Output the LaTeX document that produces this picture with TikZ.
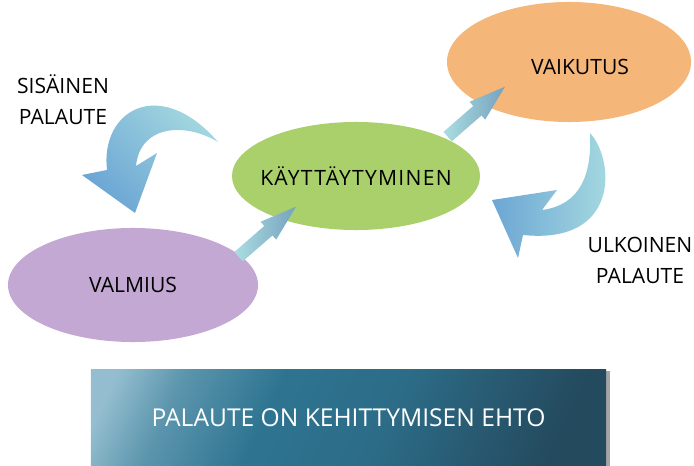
\documentclass[tikz,border=0pt]{standalone}
\usepackage{fontspec}
\setmainfont{Open Sans}
\usetikzlibrary{shapes.geometric,shapes.arrows,shadows,calc,positioning}

\definecolor{vihrea}{RGB}{169,208,106}
\definecolor{oranssi}{RGB}{245,182,122}
\definecolor{violetti}{RGB}{195,168,211}
\definecolor{syaani}{RGB}{170,221,225}
\definecolor{sininen}{RGB}{108,166,212}
\definecolor{teras}{RGB}{118,162,190}
\definecolor{laatta1}{RGB}{148,190,207}
\definecolor{laatta2}{RGB}{46,116,145}
\definecolor{laatta3}{RGB}{36,74,94}
\pgfdeclarehorizontalshading{laattavari}{100bp}{color(0bp)=(laatta1);
	color(20bp)=(laatta1); color(28bp)=(laatta2!55!laatta1);
	color(40bp)=(laatta2); color(55bp)=(laatta2!80!laatta3);
	color(76bp)=(laatta3); color(100bp)=(laatta3)}

\begin{document}
\begin{tikzpicture}[x=0.025cm,y=-0.025cm,
every node/.style={font=\fontsize{15}{22}\selectfont},
soikio/.style={ellipse,inner sep=0pt,minimum width=6.2cm,minimum height=2.7cm},
suora/.style={single arrow,rotate=41,inner xsep=0pt,inner ysep=0.15cm,
	minimum height=1.9cm,single arrow head extend=0.14cm,
	single arrow tip angle=36,left color=syaani,right color=teras},
kaari/.style={left color=sininen,right color=syaani},
laatta/.style={rectangle,minimum width=12.875cm,minimum height=2.375cm,
	shading=laattavari,shading angle=-25,text=white,
	font=\fontsize{17.5}{20}\selectfont,
	drop shadow={shadow xshift=3pt,shadow yshift=-1pt,opacity=.5,fill=black!70}}]
\useasboundingbox (0,0) rectangle (694,465);

\node[soikio,fill=vihrea,inner xsep=-0.3cm] (kay) at (356,176) 
	{\addfontfeature{LetterSpace=6}KÄYTTÄYTYMINEN};
\node[soikio,fill=oranssi,minimum width=6.1cm,minimum height=3cm,
	text height=0.64cm,text depth=0pt] (vaik) 
	at (569,62) {\hspace*{0.55cm}VAIKUTUS};
\node[soikio,fill=violetti,minimum width=6.25cm,minimum height=2.85cm] (valm) 
	at (133,285) {VALMIUS};

\node[suora] (n1) at (260,238) {};
\node[suora] (n2) at (469,118) {};

% palautenuolet
\shade[kaari,shading angle=135] (218,142) .. controls (185,122) and (140,125) 
	.. (136,166) -- (157,153) -- (135,213) -- (82,175) -- (107,170) 
	.. controls (100,110) and (160,75) .. (218,142) -- cycle;
\shade[kaari] (492,200) -- (557,190) -- (542,210) .. controls (580,205) and 
	(592,175) .. (590,133) .. controls (615,160) and (620,245) .. (523,235) 
	-- (518,258) -- cycle;

\node[align=center] (sis) at (63,100) {SISÄINEN\\PALAUTE};
\node[align=center] (ulk) at (640,260) {ULKOINEN\\PALAUTE};

\node[laatta] (ehto) at (348.5,417.5) {PALAUTE ON KEHITTYMISEN EHTO};
\end{tikzpicture}
\end{document}
